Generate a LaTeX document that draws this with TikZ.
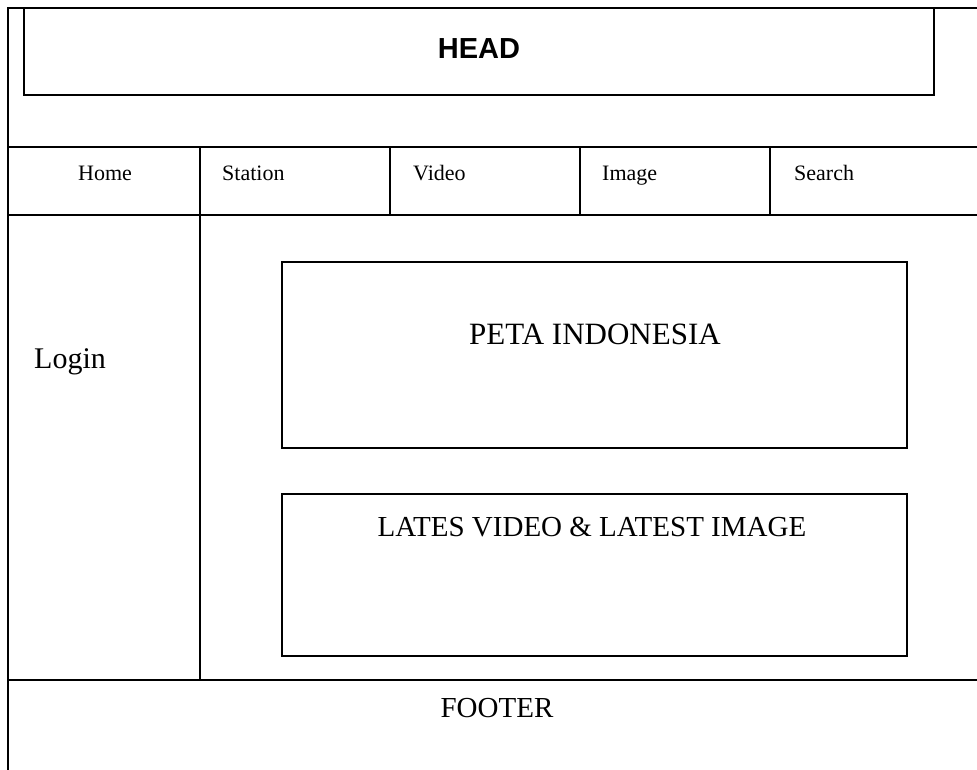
\documentclass[tikz,border=0pt]{standalone}
\usepackage{fontspec}
\setmainfont{Liberation Serif}
\newfontfamily\headfont{Liberation Sans}
\usetikzlibrary{positioning}

\tikzset{
  frame/.style={line width=1.6pt,line cap=rect},
  menu/.style={anchor=base west,inner sep=0pt,font=\fontsize{22}{22}\selectfont},
  big/.style={anchor=base,inner sep=0pt,font=\fontsize{29}{29}\selectfont}
}

\begin{document}
\begin{tikzpicture}[x=1pt,y=-1pt]
  \useasboundingbox (0,0) rectangle (977,769);
  \def\W{977}
  % outer frame and rows
  \draw[frame] (8,769) -- (8,8) -- (\W,8);
  \draw[frame] (24,8) rectangle (934,95);
  \draw[frame] (8,147) -- (\W,147);
  \draw[frame] (8,215) -- (\W,215);
  \draw[frame] (8,680) -- (\W,680);
  \foreach \x in {200,390,580,770} \draw[frame] (\x,147) -- (\x,215);
  \draw[frame] (200,215) -- (200,680);
  \draw[frame] (282,262) rectangle (907,448);
  \draw[frame] (282,494) rectangle (907,656);
  % texts
  \node[anchor=base,inner sep=0pt,font=\headfont\bfseries\fontsize{29}{29}\selectfont] (head) at (479,58) {HEAD};
  \node[menu,anchor=base] (home) at (105,180) {Home};
  \node[menu] (station) at (222,180) {Station};
  \node[menu] (video) at (413,180) {Video};
  \node[menu] (image) at (602,180) {Image};
  \node[menu] (search) at (794,180) {Search};
  \node[big,anchor=base west,font=\fontsize{30}{30}\selectfont] (login) at (34,368) {Login};
  \node[big,font=\fontsize{31}{31}\selectfont] (peta) at (595,344) {PETA INDONESIA};
  \node[big] (latest) at (592,536) {LATES VIDEO \& LATEST IMAGE};
  \node[big] (footer) at (497,717) {FOOTER};
\end{tikzpicture}
\end{document}
